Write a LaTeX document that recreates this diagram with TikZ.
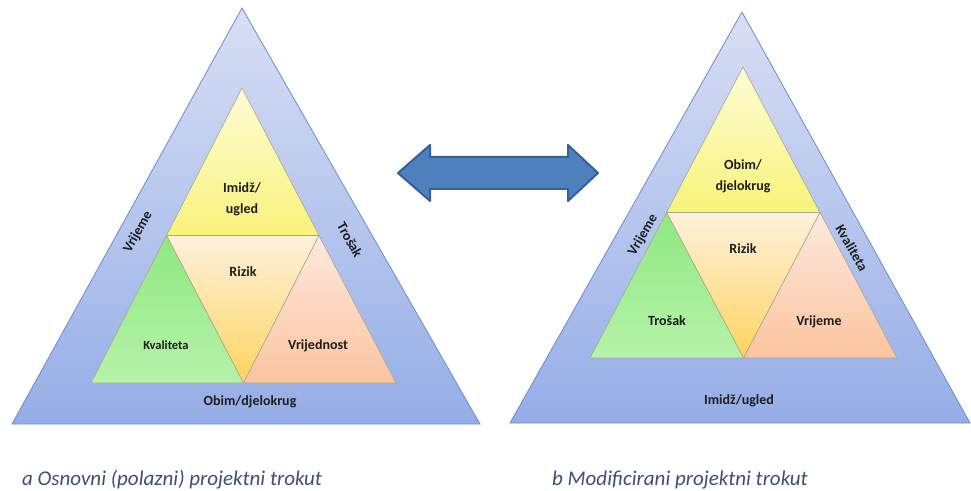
\documentclass[tikz,border=0pt]{standalone}
\usepackage{fontspec}
\setmainfont{Carlito}
\usetikzlibrary{calc,positioning}

\definecolor{bandtop}{HTML}{D8DFF4}
\definecolor{bandbot}{HTML}{95ADE7}
\definecolor{bandline}{HTML}{6A8BD0}
\definecolor{celline}{HTML}{A8A88E}
\definecolor{yeltop}{HTML}{FFFCD6}
\definecolor{yelbot}{HTML}{F8F37A}
\definecolor{risktop}{HTML}{FEF1DC}
\definecolor{riskbot}{HTML}{FDD460}
\definecolor{greentop}{HTML}{8FE883}
\definecolor{greenbot}{HTML}{B6F3A9}
\definecolor{valtop}{HTML}{FEE8DE}
\definecolor{valbot}{HTML}{FBC49E}
\definecolor{arrowfill}{HTML}{4F80BE}
\definecolor{arrowline}{HTML}{36609A}
\definecolor{captext}{HTML}{3B4F78}
\definecolor{labtext}{HTML}{1E1E1E}

\begin{document}
\begin{tikzpicture}[x=1pt,y=1pt]
\tikzset{outertri/.style={draw=bandline,line width=0.8pt,top color=bandtop,bottom color=bandbot},
innertri/.style={draw=celline,line width=0.6pt},
yellowcell/.style={innertri,top color=yeltop,bottom color=yelbot},
riskcell/.style={innertri,top color=risktop,bottom color=riskbot},
greencell/.style={innertri,top color=greentop,bottom color=greenbot},
valuecell/.style={innertri,top color=valtop,bottom color=valbot},
celllabel/.style={font=\bfseries\fontsize{14}{21}\selectfont,text=labtext,align=center,inner sep=0},
caption/.style={font=\itshape\fontsize{21}{25}\selectfont,text=captext,inner sep=0}}

\useasboundingbox (0,0) rectangle (971,490);

%% Left triangle
\coordinate (a0) at (242,482);
\coordinate (a1) at (12,66);
\coordinate (a2) at (480,66);
\coordinate (p0) at (242,402);
\coordinate (p1) at (91,107);
\coordinate (p2) at (396,107);
\coordinate (p3) at ($(p0)!0.5!(p1)$);
\coordinate (p4) at ($(p0)!0.5!(p2)$);
\coordinate (p5) at ($(p1)!0.5!(p2)$);

\path[outertri] (a0) -- (a1) -- (a2) -- cycle;
\path[yellowcell] (p0) -- (p3) -- (p4) -- cycle;
\path[riskcell] (p3) -- (p4) -- (p5) -- cycle;
\path[greencell] (p3) -- (p1) -- (p5) -- cycle;
\path[valuecell] (p4) -- (p5) -- (p2) -- cycle;

\node (imageA) [celllabel] at (242,291) {Imidž/\\ugled};
\node (riskA) [celllabel] at (243,218) {Rizik};
\node (qualA) [celllabel,font=\bfseries\fontsize{12.5}{15}\selectfont] at (166,145) {Kvaliteta};
\node (valueA) [celllabel] at (318,144) {Vrijednost};
\node (scopeA) [celllabel] at (250,88) {Obim/djelokrug};
\node (timeA) [celllabel,rotate=61] at (138,258) {Vrijeme};
\node (costA) [celllabel,rotate=-61] at (350,250) {Trošak};

%% Right triangle
\coordinate (b0) at (742,478);
\coordinate (b1) at (510,67);
\coordinate (b2) at (970,67);
\coordinate (q0) at (743,423);
\coordinate (q1) at (590,132);
\coordinate (q2) at (897,132);
\coordinate (q3) at ($(q0)!0.5!(q1)$);
\coordinate (q4) at ($(q0)!0.5!(q2)$);
\coordinate (q5) at ($(q1)!0.5!(q2)$);

\path[outertri] (b0) -- (b1) -- (b2) -- cycle;
\path[yellowcell] (q0) -- (q3) -- (q4) -- cycle;
\path[riskcell] (q3) -- (q4) -- (q5) -- cycle;
\path[greencell] (q3) -- (q1) -- (q5) -- cycle;
\path[valuecell] (q4) -- (q5) -- (q2) -- cycle;

\node (scopeB) [celllabel] at (743,314) {Obim/\\djelokrug};
\node (riskB) [celllabel] at (743,241) {Rizik};
\node (costB) [celllabel] at (667,169) {Trošak};
\node (timeB) [celllabel] at (819,168) {Vrijeme};
\node (imageB) [celllabel] at (739,89) {Imidž/ugled};
\node (sideB) [celllabel,rotate=60] at (643,255) {Vrijeme};
\node (qualB) [celllabel,rotate=-60] at (852,242) {Kvaliteta};

%% Double arrow
\draw[fill=arrowfill,draw=arrowline,line width=2pt,line join=round]
  (398,317) -- (430,345) -- (430,333) -- (568,333) -- (568,345) -- (598,317)
  -- (568,289) -- (568,301) -- (430,301) -- (430,289) -- cycle;

%% Captions
\node (capA) [caption,anchor=base west] at (22,5) {a Osnovni (polazni) projektni trokut};
\node (capB) [caption,anchor=base west] at (552,5) {b Modificirani projektni trokut};

\end{tikzpicture}
\end{document}
